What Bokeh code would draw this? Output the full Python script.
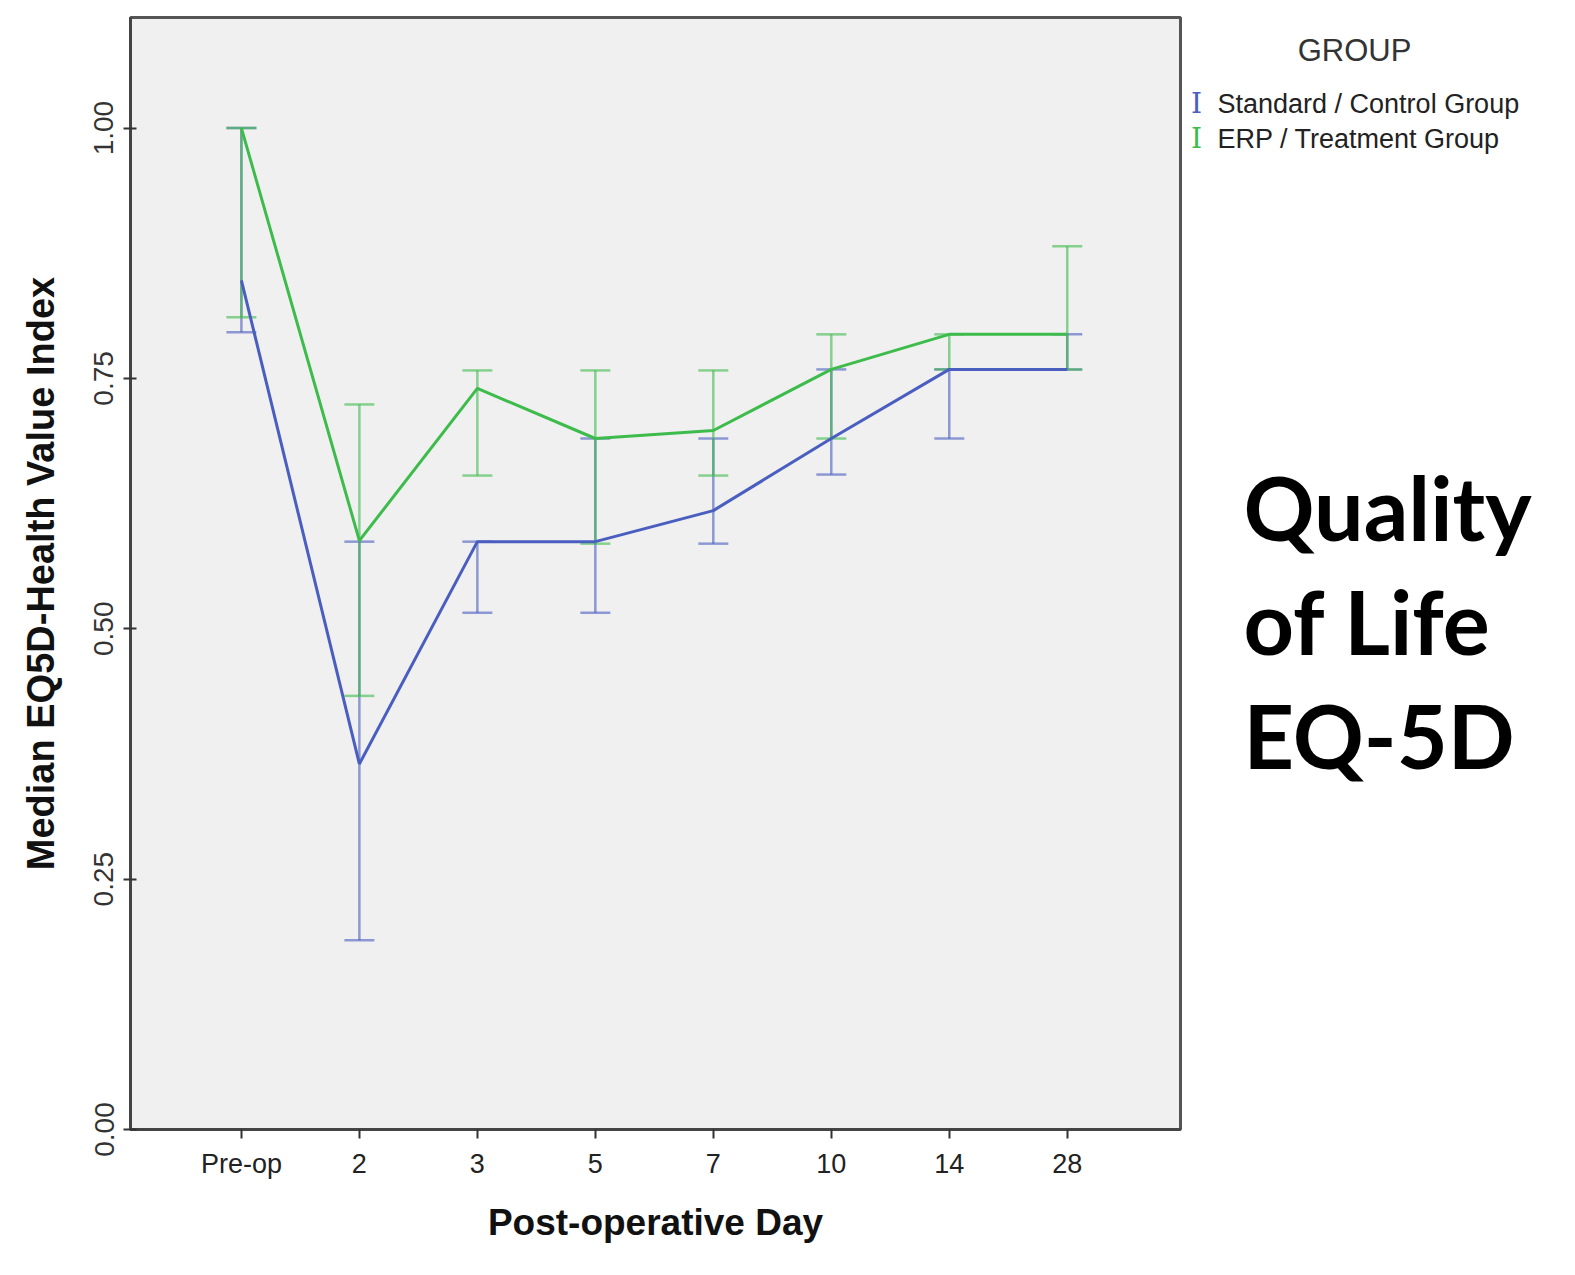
from bokeh.plotting import figure
from bokeh.layouts import row
from bokeh.models import Range1d, FixedTicker, Label, ColumnDataSource, Whisker, TeeHead
from bokeh.embed import file_html
from bokeh.resources import INLINE

categories = ["Pre-op", "2", "3", "5", "7", "10", "14", "28"]

ctrl_median = [0.848, 0.365, 0.587, 0.587, 0.618, 0.690, 0.759, 0.759]
ctrl_lower = [0.796, 0.189, 0.516, 0.516, 0.585, 0.654, 0.690, 0.759]
ctrl_upper = [1.000, 0.587, 0.587, 0.690, 0.690, 0.759, 0.759, 0.794]

erp_median = [1.000, 0.588, 0.740, 0.690, 0.698, 0.759, 0.794, 0.794]
erp_lower = [0.811, 0.433, 0.653, 0.585, 0.653, 0.690, 0.759, 0.759]
erp_upper = [1.000, 0.724, 0.758, 0.758, 0.758, 0.794, 0.794, 0.882]

y_ticks = [0.0, 0.25, 0.5, 0.75, 1.0]

legend_title = "GROUP"
legend_labels = ["Standard / Control Group", "ERP / Treatment Group"]
side_text = ["Quality", "of Life", "EQ-5D"]

BLUE = "#4a5ec0"
GREEN = "#3dbb4b"

TOP = 17
BOTTOM = 146
xs = list(range(len(categories)))

p = figure(width=1182, height=1275, output_backend="svg", toolbar_location=None,
           x_range=Range1d(-0.94, 7.96), y_range=Range1d(0, 1.1104),
           min_border_left=130, min_border_right=2, min_border_top=TOP,
           min_border_bottom=BOTTOM)
p.border_fill_color = "white"
p.background_fill_color = "#f0f0f0"
p.outline_line_color = "#555555"
p.outline_line_width = 3
p.grid.visible = False

p.xaxis.ticker = FixedTicker(ticks=xs)
p.xaxis.major_label_overrides = {i: c for i, c in enumerate(categories)}
p.xaxis.minor_tick_line_color = None
p.xaxis.major_tick_in = 0
p.xaxis.major_tick_out = 9
p.xaxis.axis_line_width = 3
p.xaxis.axis_line_color = "#444444"
p.xaxis.major_tick_line_width = 2
p.xaxis.major_tick_line_color = "#333333"
p.xaxis.major_label_text_font = "Liberation Sans"
p.xaxis.major_label_text_font_size = "27px"
p.xaxis.major_label_text_color = "#222222"
p.xaxis.major_label_standoff = 10
p.xaxis.axis_label = "Post-operative Day"
p.xaxis.axis_label_text_font = "Liberation Sans"
p.xaxis.axis_label_text_font_style = "bold"
p.xaxis.axis_label_text_font_size = "37px"
p.xaxis.axis_label_text_color = "#111111"
p.xaxis.axis_label_standoff = 20

p.yaxis.ticker = FixedTicker(ticks=y_ticks)
p.yaxis.major_label_overrides = {t: f"{t:.2f}" for t in y_ticks}
p.yaxis.minor_tick_line_color = None
p.yaxis.major_tick_in = 6
p.yaxis.major_tick_out = 7
p.yaxis.axis_line_width = 3
p.yaxis.axis_line_color = "#444444"
p.yaxis.major_tick_line_width = 2
p.yaxis.major_tick_line_color = "#333333"
p.yaxis.major_label_orientation = "vertical"
p.yaxis.major_label_text_font = "Liberation Sans"
p.yaxis.major_label_text_font_size = "28px"
p.yaxis.major_label_text_color = "#333333"
p.yaxis.major_label_standoff = 10
p.yaxis.axis_label = "Median EQ5D-Health Value Index"
p.yaxis.axis_label_text_font = "Liberation Sans"
p.yaxis.axis_label_text_font_style = "bold"
p.yaxis.axis_label_text_font_size = "38px"
p.yaxis.axis_label_text_color = "#111111"
p.yaxis.axis_label_standoff = 30

for med, lo, hi, col in [(ctrl_median, ctrl_lower, ctrl_upper, BLUE),
                         (erp_median, erp_lower, erp_upper, GREEN)]:
    src = ColumnDataSource(dict(x=xs, lo=lo, hi=hi, med=med))
    w = Whisker(source=src, base="x", lower="lo", upper="hi", dimension="height",
                line_color=col, line_width=2.5, line_alpha=0.6,
                lower_head=TeeHead(size=30, line_color=col, line_width=2.5, line_alpha=0.6),
                upper_head=TeeHead(size=30, line_color=col, line_width=2.5, line_alpha=0.6))
    p.add_layout(w)

p.line(xs, ctrl_median, line_color=BLUE, line_width=3)
p.line(xs, erp_median, line_color=GREEN, line_width=3)

# right-hand panel: frame aligned with the chart's frame, data units = page pixels
q = figure(width=393, height=1275, output_backend="svg", toolbar_location=None,
           title=None, x_axis_location=None, y_axis_location=None,
           x_range=Range1d(1182, 1575), y_range=Range1d(1275 - BOTTOM, TOP),
           min_border=0, min_border_left=0, min_border_right=0,
           min_border_top=TOP, min_border_bottom=BOTTOM)
q.grid.visible = False
q.outline_line_color = None
q.background_fill_color = "white"
q.border_fill_color = "white"

q.add_layout(Label(x=1354, y=50, text=legend_title, text_align="center",
                   text_baseline="middle", text_font="Liberation Sans",
                   text_font_size="31px", text_color="#333333"))
for py, col, txt in [(103, BLUE, legend_labels[0]), (138, GREEN, legend_labels[1])]:
    q.add_layout(Label(x=1196, y=py, text="I", text_align="center",
                       text_baseline="middle", text_font="DejaVu Serif",
                       text_font_size="28px", text_color=col))
    q.add_layout(Label(x=1217, y=py, text=txt, text_align="left",
                       text_baseline="middle", text_font="Liberation Sans",
                       text_font_size="27px", text_color="#222222"))

for py, txt in zip([506, 620, 734], side_text):
    q.add_layout(Label(x=1243, y=py, text=txt, text_align="left",
                       text_baseline="middle", text_font="Lato",
                       text_font_style="bold", text_font_size="88px",
                       text_color="#000000"))

layout = row(p, q)
open("out.html", "w").write(file_html(layout, INLINE))
